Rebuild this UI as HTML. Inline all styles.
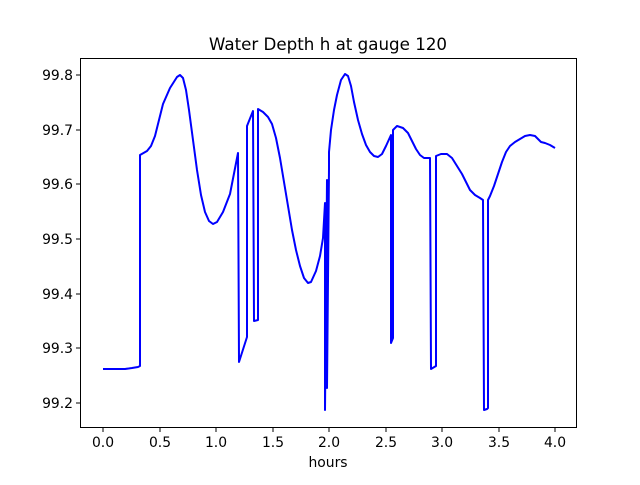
<!DOCTYPE html>
<html><head><style>
body{margin:0;background:#fff;}
svg text{font-family:"DejaVu Sans","Liberation Sans",sans-serif;fill:#000;}
</style></head><body>
<svg width="640" height="480" viewBox="0 0 640 480" xmlns="http://www.w3.org/2000/svg">
<rect width="640" height="480" fill="#fff"/>
<text x="328" y="50" font-size="16.7" text-anchor="middle">Water Depth h at gauge 120</text>
<polyline fill="none" stroke="#0000ff" stroke-width="2" stroke-linejoin="round" points="
103,369 125,369 132,368 138,367 140,366 140,155 147,151 151,146 155,136 159,120 163,104 170,88 177,77 180,75 183,78 186,90 189,110 193,140 197,170 201,195 205,212 209,221 213,224 217,222 223,212 230,194 238,153 239,362 247,337 247,126 253,111 254,321 258,320 258,109 263,112 268,117 272,124 276,138 280,158 284,182 288,206 292,230 296,250 300,266 304,278 308,283 311,282 316,271 320,256 323,238 325,203 325,410 326,300 327,180 327,388 328,280 329,168 329,152 331,130 334,110 337,95 341,80 345,74 348,76 351,86 354,102 358,120 362,134 366,145 370,152 374,156 378,157 382,154 386,146 391,135 391,343 393,338 393,130 397,126 403,128 408,133 412,141 416,149 420,155 424,158 430,158 431,369 436,366 436,156 441,154 447,154 452,158 457,166 462,174 466,182 470,190 475,195 480,198 483,200 484,410 487,409 488,408 488,200 490,196 494,186 498,174 502,162 506,152 510,146 515,142 520,139 525,136 530,135 535,136 538,139 541,142 545,143 550,145 555,148"/>
<rect x="80.5" y="58.5" width="496" height="369" fill="none" stroke="#000" stroke-width="1"/>
<g stroke="#000" stroke-width="1">
<line x1="103" y1="428" x2="103" y2="432"/><line x1="160" y1="428" x2="160" y2="432"/><line x1="216" y1="428" x2="216" y2="432"/><line x1="273" y1="428" x2="273" y2="432"/><line x1="329" y1="428" x2="329" y2="432"/><line x1="386" y1="428" x2="386" y2="432"/><line x1="442" y1="428" x2="442" y2="432"/><line x1="499" y1="428" x2="499" y2="432"/><line x1="555" y1="428" x2="555" y2="432"/>
<line x1="76" y1="403" x2="80" y2="403"/><line x1="76" y1="348" x2="80" y2="348"/><line x1="76" y1="294" x2="80" y2="294"/><line x1="76" y1="239" x2="80" y2="239"/><line x1="76" y1="184" x2="80" y2="184"/><line x1="76" y1="130" x2="80" y2="130"/><line x1="76" y1="75" x2="80" y2="75"/>
</g>
<g font-size="13.9" text-anchor="middle">
<text x="103" y="447">0.0</text><text x="160" y="447">0.5</text><text x="216" y="447">1.0</text><text x="273" y="447">1.5</text><text x="329" y="447">2.0</text><text x="386" y="447">2.5</text><text x="442" y="447">3.0</text><text x="499" y="447">3.5</text><text x="555" y="447">4.0</text>
<text x="328" y="467">hours</text>
</g>
<g font-size="13.9" text-anchor="end">
<text x="73" y="408">99.2</text><text x="73" y="353">99.3</text><text x="73" y="299">99.4</text><text x="73" y="244">99.5</text><text x="73" y="189">99.6</text><text x="73" y="135">99.7</text><text x="73" y="80">99.8</text>
</g>
</svg>
</body></html>
